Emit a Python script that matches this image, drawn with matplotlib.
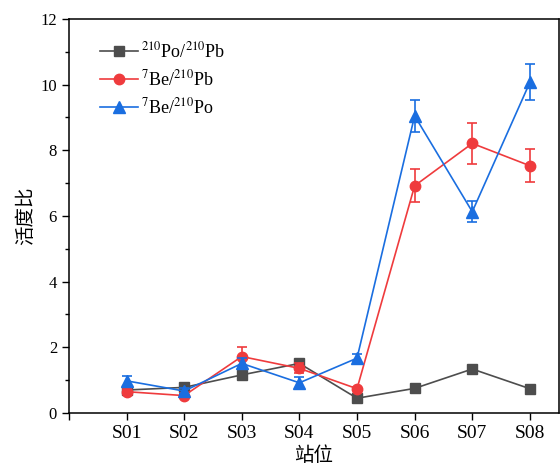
import numpy as np
import matplotlib
matplotlib.use("Agg")
import matplotlib.pyplot as plt

# 站位与活度比数据
stations = ["S01", "S02", "S03", "S04", "S05", "S06", "S07", "S08"]

po_pb = [0.70, 0.78, 1.16, 1.51, 0.45, 0.75, 1.34, 0.74]

be_pb = [0.65, 0.53, 1.72, 1.36, 0.74, 6.92, 8.21, 7.53]
be_pb_err = [0.08, 0.08, 0.28, 0.15, 0.05, 0.50, 0.62, 0.51]

be_po = [0.98, 0.67, 1.51, 0.92, 1.67, 9.05, 6.13, 10.07]
be_po_err = [0.15, 0.08, 0.15, 0.17, 0.12, 0.48, 0.32, 0.55]

plt.rcParams['font.family'] = ['Liberation Serif', 'Noto Sans CJK SC']
plt.rcParams['mathtext.fontset'] = 'stix'

fig = plt.figure(figsize=(5.6, 4.68), dpi=100)
ax = fig.add_axes([0.123, 0.1175, 0.8747, 0.842])

x = np.arange(1, len(stations) + 1)

l1, = ax.plot(x, po_pb, '-s', color='#4d4d4d', lw=1.2, ms=7,
              label=r'$^{210}$Po/$^{210}$Pb', zorder=3)
eb2 = ax.errorbar(x, be_pb, yerr=be_pb_err, fmt='-o', color='#ef3b3d', lw=1.2, ms=7.5,
                  capsize=3.5, elinewidth=1.2, capthick=1.2,
                  label=r'$^{7}$Be/$^{210}$Pb', zorder=4)
eb3 = ax.errorbar(x, be_po, yerr=be_po_err, fmt='-^', color='#1a6ee0', lw=1.2, ms=8,
                  capsize=3.5, elinewidth=1.2, capthick=1.2,
                  label=r'$^{7}$Be/$^{210}$Po', zorder=5)

ax.set_xlim(0, 8.5)
ax.set_ylim(0, 12)
ax.set_xticks(np.arange(0, 9))
ax.set_xticklabels([''] + stations, fontsize=14)
ax.set_yticks(np.arange(0, 13, 2))
ax.set_yticks(np.arange(1, 12, 2), minor=True)
ax.tick_params(axis='y', labelsize=12)
ax.tick_params(which='major', direction='out', length=5, width=1)
ax.tick_params(which='minor', direction='out', length=3, width=1)

for s in ax.spines.values():
    s.set_linewidth(1.1)

ax.set_xlabel('站位', fontsize=14, family='Noto Sans CJK SC', labelpad=2)
ax.set_ylabel('活度比', fontsize=14, family='Noto Sans CJK SC', labelpad=3)

# 图例只显示线和标记，不带误差棒
ax.legend(handles=[l1, eb2[0], eb3[0]],
          labels=[r'$^{210}$Po/$^{210}$Pb', r'$^{7}$Be/$^{210}$Pb', r'$^{7}$Be/$^{210}$Po'],
          loc='upper left', bbox_to_anchor=(0.03, 0.985), frameon=False,
          fontsize=13, handlelength=2.1, handletextpad=0.2, labelspacing=0.45)

plt.savefig("out.png", dpi=100)
